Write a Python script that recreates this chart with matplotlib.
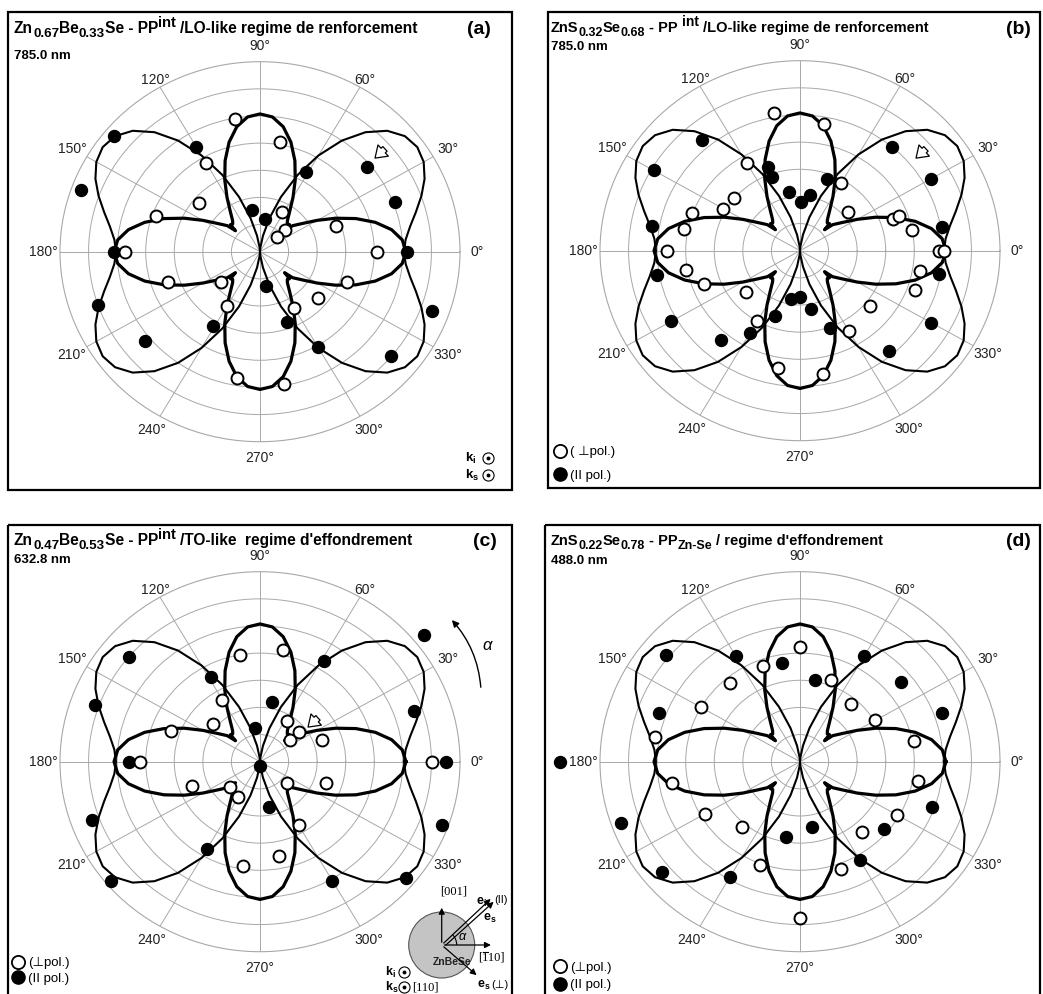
import numpy as np
import matplotlib.pyplot as plt
from matplotlib.patches import Rectangle, Circle, Arc, FancyArrowPatch

W, H = 1043, 994

plt.rcParams['font.family'] = ['Liberation Sans', 'DejaVu Sans']
plt.rcParams['mathtext.fontset'] = 'custom'
plt.rcParams['mathtext.rm'] = 'Liberation Sans'
plt.rcParams['mathtext.bf'] = 'Liberation Sans:bold'
plt.rcParams['mathtext.it'] = 'Liberation Sans:italic'

# theoretical curves, first quadrant only (angle in deg, relative intensity),
# the figure is symmetric about both axes
PERP_DEG = [0, 5, 10, 15, 20, 25, 30, 35, 38, 40, 42, 44, 47, 50, 55, 60, 65, 70, 75, 80, 85, 90]
PERP_R = [0.730, 0.714, 0.668, 0.597, 0.510, 0.417, 0.330, 0.259, 0.229, 0.213, 0.165,
          0.205, 0.200, 0.213, 0.259, 0.330, 0.417, 0.510, 0.597, 0.668, 0.712, 0.725]
PAR_DEG = [0, 5, 10, 15, 20, 25, 30, 35, 40, 45, 50, 55, 60, 65, 70, 75, 80, 85, 90]
PAR_R = [0.720, 0.731, 0.762, 0.807, 0.859, 0.908, 0.945, 0.960, 0.946, 0.900, 0.821,
         0.714, 0.585, 0.446, 0.307, 0.183, 0.085, 0.022, 0.0]

# (a) Zn0.67Be0.33Se, 785.0 nm
A_OPEN_DEG = [0, 20, 42, 42, 62, 80, 100, 120, 140, 160, 180, 199, 219, 240, 260, 280, 300, 320, 340]
A_OPEN_R = [0.584, 0.403, 0.171, 0.115, 0.238, 0.585, 0.709, 0.542, 0.397, 0.553, 0.673,
            0.489, 0.250, 0.328, 0.674, 0.705, 0.342, 0.378, 0.461]
A_FILL_DEG = [0, 21, 40, 61, 81, 100, 120, 140, 160, 180, 199, 219, 239, 279, 290, 300, 320, 340]
A_FILL_R = [0.735, 0.725, 0.697, 0.477, 0.173, 0.225, 0.637, 0.951, 0.950, 0.729, 0.859,
            0.743, 0.457, 0.185, 0.394, 0.579, 0.853, 0.916]

# (b) ZnS0.32Se0.68, 785.0 nm
B_OPEN_DEG = [0, 0, 11, 20, 20, 40, 60, 80, 100, 120, 140, 150, 160, 169, 180, 190, 200,
              219, 240, 260, 280, 300, 320, 340, 350]
B_OPEN_R = [0.693, 0.721, 0.571, 0.494, 0.528, 0.316, 0.409, 0.678, 0.737, 0.531, 0.432,
            0.442, 0.575, 0.591, 0.663, 0.577, 0.512, 0.348, 0.428, 0.629, 0.659, 0.487,
            0.456, 0.610, 0.611]
B_FILL_DEG = [10, 30, 50, 70, 80, 89, 100, 110, 110, 130, 150, 170, 190, 210, 230, 240,
              250, 260, 270, 280, 290, 310, 330, 350]
B_FILL_R = [0.720, 0.756, 0.712, 0.400, 0.298, 0.255, 0.315, 0.466, 0.413, 0.761, 0.845,
            0.752, 0.727, 0.744, 0.613, 0.503, 0.367, 0.260, 0.242, 0.313, 0.435, 0.690,
            0.756, 0.708]

# (c) Zn0.47Be0.53Se, 632.8 nm
C_OPEN_DEG = [0, 20, 37, 39, 58, 79, 100, 120, 140, 160, 180, 201, 221, 240, 261, 281,
              300, 321, 341]
C_OPEN_R = [0.861, 0.332, 0.188, 0.251, 0.254, 0.599, 0.571, 0.377, 0.308, 0.472, 0.600,
            0.363, 0.202, 0.215, 0.555, 0.505, 0.386, 0.175, 0.347]
C_FILL_DEG = [0, 19, 39, 59, 79, 98, 119, 140, 160, 180, 200, 220, 240, 270, 281, 300,
              320, 340]
C_FILL_R = [0.930, 0.813, 1.056, 0.618, 0.319, 0.178, 0.507, 0.857, 0.878, 0.655, 0.896,
            0.975, 0.532, 0.020, 0.241, 0.722, 0.950, 0.970]

# (d) ZnS0.22Se0.78, 488.0 nm
D_OPEN_DEG = [11, 30, 50, 70, 90, 110, 130, 150, 170, 190, 210, 230, 250, 270, 290, 310,
              330, 350]
D_OPEN_R = [0.582, 0.435, 0.395, 0.458, 0.602, 0.538, 0.543, 0.572, 0.737, 0.650, 0.550,
            0.450, 0.580, 0.820, 0.600, 0.480, 0.560, 0.600]
D_FILL_DEG = [20, 40, 60, 80, 100, 120, 140, 160, 180, 200, 220, 240, 260, 280, 300, 320,
              340]
D_FILL_R = [0.756, 0.656, 0.640, 0.437, 0.526, 0.642, 0.877, 0.748, 1.200, 0.950, 0.900,
            0.700, 0.400, 0.350, 0.600, 0.550, 0.700]

# titles as (text, relative size, vertical shift in px) pieces
TITLES = {
    'a': [('Zn', 1, 0), ('0.67', 0.86, 4), ('Be', 1, 0), ('0.33', 0.86, 4),
          ('Se - PP', 1, 0), ('int', 0.95, -6), (' /LO-like regime de renforcement', 1, 0)],
    'b': [('ZnS', 1, 0), ('0.32', 0.86, 4), ('Se', 1, 0), ('0.68', 0.86, 4),
          (' - PP ', 1, 0), ('int', 0.95, -6), (' /LO-like regime de renforcement', 1, 0)],
    'c': [('Zn', 1, 0), ('0.47', 0.86, 4), ('Be', 1, 0), ('0.53', 0.86, 4),
          ('Se - PP', 1, 0), ('int', 0.95, -6), (" /TO-like  regime d'effondrement", 1, 0)],
    'd': [('ZnS', 1, 0), ('0.22', 0.86, 4), ('Se', 1, 0), ('0.78', 0.86, 4),
          (' - PP', 1, 0), ('Zn-Se', 0.86, 4), (" / regime d'effondrement", 1, 0)],
}
WAVELENGTHS = {'a': '785.0 nm', 'b': '785.0 nm', 'c': '632.8 nm', 'd': '488.0 nm'}
DATA = {
    'a': (A_OPEN_DEG, A_OPEN_R, A_FILL_DEG, A_FILL_R),
    'b': (B_OPEN_DEG, B_OPEN_R, B_FILL_DEG, B_FILL_R),
    'c': (C_OPEN_DEG, C_OPEN_R, C_FILL_DEG, C_FILL_R),
    'd': (D_OPEN_DEG, D_OPEN_R, D_FILL_DEG, D_FILL_R),
}

# layout in pixels of the original picture
LAYOUT = {
    'a': dict(frame=(8, 12, 512, 490), center=(260, 251.7), x0=14, ty=(33, 59),
              tfs=11.2, lab=(479, 34)),
    'b': dict(frame=(548, 12, 1040, 488), center=(800, 250.7), x0=551, ty=(32, 50),
              tfs=10.5, lab=(1018, 34)),
    'c': dict(frame=(8, 525, 512, 1000), center=(260, 761.7), x0=14, ty=(545, 563),
              tfs=11.2, lab=(485, 546)),
    'd': dict(frame=(545, 525, 1040, 1000), center=(800, 761.7), x0=551, ty=(545, 564),
              tfs=10.5, lab=(1018, 546)),
}
RX, RY = 200, 190


def full_turn(deg, r):
    """ mirror one quadrant of a curve to the full turn """
    deg = np.asarray(deg, float)
    r = np.asarray(r, float)
    d = np.concatenate([deg, 180 - deg[::-1], 180 + deg, 360 - deg[::-1]])
    rr = np.concatenate([r, r[::-1], r, r[::-1]])
    return np.radians(d), rr


def rich_text(ax, x, y, parts, size, renderer):
    """ bold text made of pieces with their own size and baseline shift """
    for s, rel, dy in parts:
        fs = size * rel
        space = fs * 0.278 * 100 / 72
        x += (len(s) - len(s.lstrip(' '))) * space
        t = ax.text(x, y + dy, s.strip(' '), fontsize=fs, fontweight='bold',
                    va='baseline', ha='left')
        x += t.get_window_extent(renderer).width
        x += (len(s) - len(s.rstrip(' '))) * space


fig = plt.figure(figsize=(W / 100, H / 100), dpi=100)
renderer = fig.canvas.get_renderer()
bg = fig.add_axes([0, 0, 1, 1])
bg.set_xlim(0, W)
bg.set_ylim(H, 0)
bg.axis('off')

GRID = '#a8a8a8'
for key in 'abcd':
    lay = LAYOUT[key]
    x1, y1, x2, y2 = lay['frame']
    bg.add_patch(Rectangle((x1, y1), x2 - x1, y2 - y1, fill=False, lw=1.6,
                           ec='black', zorder=1))
    rich_text(bg, lay['x0'], lay['ty'][0], TITLES[key], lay['tfs'], renderer)
    bg.text(lay['x0'], lay['ty'][1], WAVELENGTHS[key], fontsize=9.5,
            fontweight='bold', va='baseline', ha='left')
    bg.text(lay['lab'][0], lay['lab'][1], '(%s)' % key, fontsize=14,
            fontweight='bold', va='baseline', ha='center')

    cx, cy = lay['center']
    ax = fig.add_axes([(cx - RX) / W, 1 - (cy + RY) / H, 2 * RX / W, 2 * RY / H],
                      projection='polar')
    ax.set_aspect('auto')
    ax.patch.set_alpha(0)
    ax.set_rlim(0, 1)
    ax.set_rgrids(np.arange(1, 7) / 7, labels=[''] * 6)
    ax.set_thetagrids(np.arange(0, 360, 30), labels=[''] * 12)
    ax.grid(True, color=GRID, lw=0.7)
    ax.spines['polar'].set_color(GRID)
    ax.spines['polar'].set_linewidth(0.8)
    for a in range(0, 360, 30):
        rlab = 1.045 if a in (60, 120) else 1.085
        ax.text(np.radians(a), rlab, '%d°' % a, fontsize=10, color='#222222',
                ha='center', va='center')

    th, rr = full_turn(PAR_DEG, PAR_R)
    ax.plot(th, rr, color='black', lw=1.5, zorder=3)
    th, rr = full_turn(PERP_DEG, PERP_R)
    ax.plot(th, rr, color='black', lw=2.3, zorder=3)

    od, orr, fd, frr = DATA[key]
    ax.plot(np.radians(fd), frr, 'o', ms=8.6, mfc='black', mec='black', zorder=5,
            clip_on=False)
    ax.plot(np.radians(od), orr, 'o', ms=8.6, mfc='white', mec='black', mew=1.4,
            zorder=5, clip_on=False)

# legends: open marker position, gap to filled marker, labels
LEGENDS = [((560, 450.7), 23.6, '( ⊥pol.)'), ((18.3, 961.7), 15.6, '(⊥pol.)'),
           ((560, 966), 17.5, '(⊥pol.)')]
for (mx, my), gap, lab in LEGENDS:
    bg.plot(mx, my, 'o', ms=9.5, mfc='white', mec='black', mew=1.3)
    bg.plot(mx, my + gap, 'o', ms=9.5, mfc='black', mec='black')
    bg.text(mx + 10, my + 4.5, lab, fontsize=9.5, va='baseline')
    bg.text(mx + 10, my + gap + 4.5, '(II pol.)', fontsize=9.5, va='baseline')

# k vectors of panel (a)
bg.text(465, 462, r'$\mathbf{k_i}$', fontsize=9.5, va='baseline')
bg.text(465, 479, r'$\mathbf{k_s}$', fontsize=9.5, va='baseline')
for yy in (458, 475):
    bg.plot(488, yy, 'o', ms=8, mfc='white', mec='black', mew=0.8)
    bg.plot(488, yy, 'o', ms=1.8, color='black')

# outlined arrows pointing at single points
for hx, hy in [(373, 160), (914, 160), (306, 729)]:
    bg.annotate('', xy=(hx, hy), xytext=(hx + 14, hy - 13),
                arrowprops=dict(arrowstyle='simple,head_width=1.1,head_length=0.8,tail_width=0.45',
                                fc='white', ec='black', lw=0.9))

# rotation sense arrow of panel (c)
bg.add_patch(FancyArrowPatch((481, 690), (450, 618), connectionstyle='arc3,rad=0.18',
                             arrowstyle='-|>', mutation_scale=10, lw=1, color='black'))
bg.text(488, 645, r'$\alpha$', fontsize=12, family='DejaVu Serif', ha='center', va='center')

# scattering geometry inset of panel (c)
ox, oy = 441.7, 945
bg.add_patch(Circle((ox, oy), 33, fc='#c4c4c4', ec='#555555', lw=0.8, zorder=2))
bg.text(ox + 10, oy + 17, 'ZnBeSe', fontsize=7.5, fontweight='bold', ha='center',
        va='center', color='#222222', zorder=3)
arrow = dict(arrowstyle='-|>', mutation_scale=9, lw=0.9, color='black')
bg.annotate('', xy=(ox, oy - 40), xytext=(ox, oy), arrowprops=arrow, zorder=4)
bg.annotate('', xy=(ox + 52, oy), xytext=(ox, oy), arrowprops=arrow, zorder=4)
bg.annotate('', xy=(ox + 51, oy - 48), xytext=(ox, oy), arrowprops=arrow, zorder=4)
bg.annotate('', xy=(ox + 54, oy - 45), xytext=(ox + 2, oy + 2), arrowprops=arrow, zorder=4)
bg.annotate('', xy=(ox + 37, oy + 32), xytext=(ox, oy), arrowprops=arrow, zorder=4)
bg.add_patch(Arc((ox, oy), 30, 30, theta1=-43, theta2=0, lw=0.8, zorder=4))
bg.text(ox + 21, oy - 8, r'$\alpha$', fontsize=9, family='DejaVu Serif', ha='center',
        va='center', zorder=4)
bg.text(ox + 12, oy - 54, '[001]', fontsize=9, family='Liberation Serif', ha='center',
        va='center')
bg.text(ox + 50, oy + 13, '[110]', fontsize=9, family='Liberation Serif', ha='center',
        va='center')
bg.plot([ox + 41, ox + 46], [oy + 6.5, oy + 6.5], color='black', lw=0.8)
bg.text(ox + 34, oy - 43, r'$\mathbf{e_i}$', fontsize=9, va='center')
bg.text(ox + 53, oy - 45, '(II)', fontsize=8, va='center')
bg.text(ox + 41, oy - 27, r'$\mathbf{e_s}$', fontsize=9, va='center')
bg.text(ox + 35, oy + 40, r'$\mathbf{e_s}$', fontsize=9, va='center')
bg.text(ox + 50, oy + 40, '(⊥)', fontsize=8, va='center')
bg.text(ox - 57, oy + 31, r'$\mathbf{k_i}$', fontsize=9, va='baseline')
bg.text(ox - 57, oy + 46, r'$\mathbf{k_s}$', fontsize=9, va='baseline')
for yy in (oy + 27, oy + 42):
    bg.plot(ox - 38, yy, 'o', ms=8, mfc='white', mec='black', mew=0.8)
    bg.plot(ox - 38, yy, 'o', ms=1.8, color='black')
bg.text(ox - 30, oy + 42, '[110]', fontsize=9, family='Liberation Serif', va='center')

fig.savefig('out.png', dpi=100)
